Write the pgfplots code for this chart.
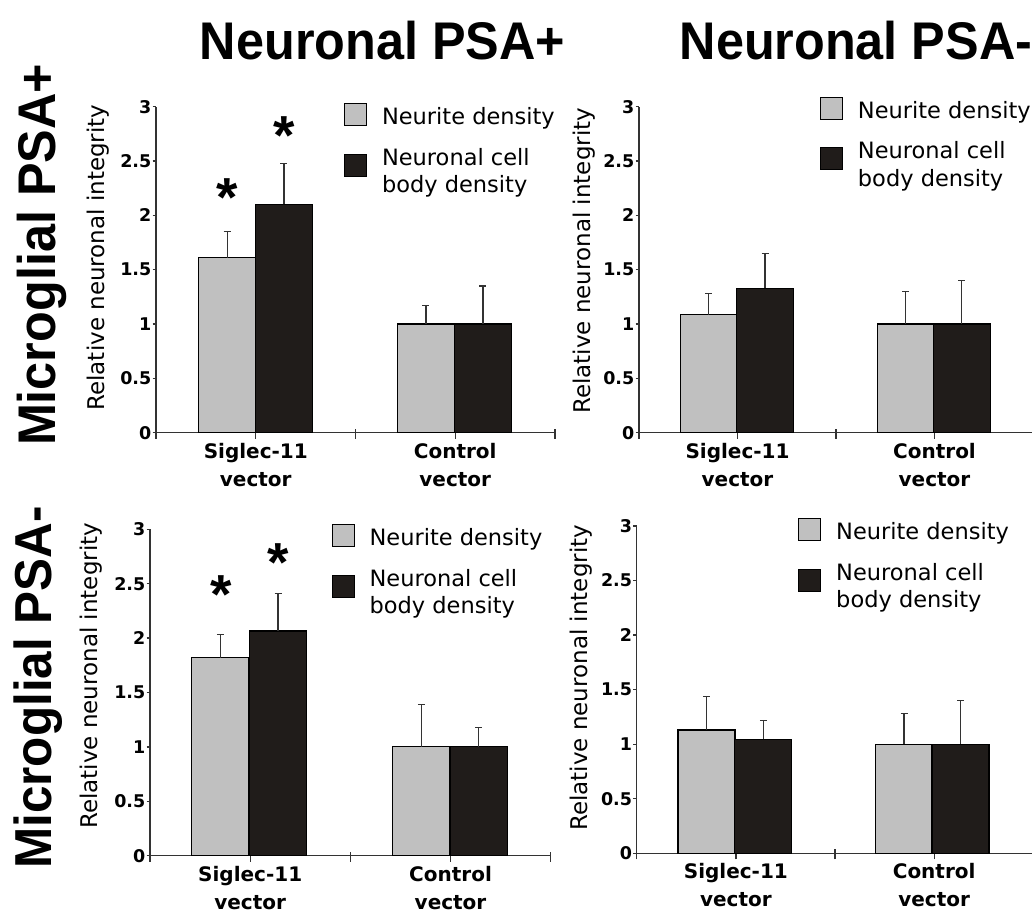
\documentclass[border=0pt]{standalone}
\usepackage{fontspec}
\usepackage{graphicx}
\usepackage{pgfplots}
\pgfplotsset{compat=1.18}
\newfontfamily\dvs{DejaVu Sans}
\newfontfamily\lib{Liberation Sans}
\definecolor{lgray}{RGB}{192,192,192}
\definecolor{dblack}{RGB}{32,28,26}
\definecolor{axcol}{RGB}{51,51,51}
\pgfplotsset{
  panel/.style={
    scale only axis,
    ymin=0, ymax=3, xmin=-0.5, xmax=1.5,
    enlargelimits=false, clip=false,
    axis x line=bottom, axis y line=left,
    axis line style={-, line width=1.3pt, color=axcol},
    ytick={0,0.5,1,1.5,2,2.5,3},
    yticklabels={0,0.5,1,1.5,2,2.5,3},
    yticklabel style={font=\dvs\bfseries\fontsize{17.5}{20}\selectfont, inner sep=0pt, xshift=-1pt},
    tick align=outside,
    major tick length=3.5pt,
    tick style={line width=1.3pt, color=axcol},
    xtick={-0.5,0.5,1.5}, xticklabels={},
    xtick style={/pgfplots/major tick length=10pt, yshift=4pt},
    extra x ticks={0,1},
    extra x tick labels={{Siglec-11\\vector},{Control\\vector}},
    extra x tick style={major tick length=0pt},
    xticklabel style={font=\dvs\bfseries\fontsize{20}{28}\selectfont, align=center, inner sep=0pt, yshift=-10pt},
    ylabel={Relative neuronal integrity},
    legend style={draw=none, fill=none, inner sep=0pt, outer sep=0pt,
      font=\dvs\fontsize{22.5}{27.7}\selectfont, row sep=21.5pt, column sep=15pt,
      nodes={inner sep=0pt, align=left}, anchor=north west},
    legend cell align=left,
  },
  ylab/.style 2 args={every axis y label/.style={at={(axis description cs:#1,#2)}, rotate=90, anchor=base,
      font=\dvs\fontsize{23}{24}\selectfont}},
  gbar/.style={ybar, bar width=57pt, bar shift=0pt, fill=lgray, draw=black, line width=1.1pt, forget plot,
    error bars/.cd, y dir=plus, y explicit,
    error bar style={line width=1.3pt, color=axcol},
    error mark options={rotate=90, line width=1.3pt, mark size=3.5pt, color=axcol}},
  kbar/.style={ybar, bar width=57pt, bar shift=0pt, fill=dblack, draw=black, line width=1.1pt, forget plot,
    error bars/.cd, y dir=plus, y explicit,
    error bar style={line width=1.3pt, color=axcol},
    error mark options={rotate=90, line width=1.3pt, mark size=3.5pt, color=axcol}},
  stars/.style={only marks, mark=text, text mark={\lib\bfseries\fontsize{55}{55}\selectfont *},
    mark options={yshift=-7pt}, forget plot},
  leg1/.style={legend image code/.code={\draw[fill=lgray, draw=black, line width=1.1pt] (0pt,-8.5pt) rectangle (22pt,13.5pt);}},
  leg2/.style={legend image code/.code={\draw[fill=dblack, draw=black, line width=1.1pt] (0pt,-5pt) rectangle (22pt,17pt);}},
}
\begin{document}
\begin{tikzpicture}
\useasboundingbox (0pt,0pt) rectangle (1032pt,916pt);
% titles
\node[anchor=base] at (382.5pt,856pt) {\lib\bfseries\fontsize{53}{53}\selectfont\scalebox{0.95}[1]{Neuronal PSA+}};
\node[anchor=base] at (856pt,856pt) {\lib\bfseries\fontsize{53}{53}\selectfont\scalebox{0.95}[1]{Neuronal PSA-}};
\node[anchor=base, rotate=90] at (55pt,661pt) {\lib\bfseries\fontsize{53}{53}\selectfont\scalebox{0.95}[1]{Microglial PSA+}};
\node[anchor=base, rotate=90] at (51pt,228.5pt) {\lib\bfseries\fontsize{52}{52}\selectfont\scalebox{0.95}[1]{Microglial PSA-}};

% Panel 1: top-left
\begin{axis}[panel, at={(156pt,483.3pt)}, anchor=south west, width=399pt, height=326pt,
  ylab={-0.128}{0.537},
  legend style={at={(axis description cs:0.471,1.011)}}]
\addplot[gbar] coordinates {(-0.143,1.61) +- (0,0.24) (0.853,1.0) +- (0,0.17)};
\addplot[kbar] coordinates {(0.141,2.10) +- (0,0.38) (1.139,1.0) +- (0,0.35)};
\addplot[stars] coordinates {(-0.143,2.23) (0.141,2.80)};
\addlegendimage{leg1}\addlegendentry{Neurite density}
\addlegendimage{leg2}\addlegendentry{Neuronal cell\\body density}
\end{axis}

% Panel 2: top-right
\begin{axis}[panel, at={(639pt,483.3pt)}, anchor=south west, width=394pt, height=326pt,
  ylab={-0.124}{0.527},
  legend style={at={(axis description cs:0.459,1.031)}}]
\addplot[gbar] coordinates {(-0.146,1.085) +- (0,0.195) (0.853,1.0) +- (0,0.30)};
\addplot[kbar] coordinates {(0.14,1.33) +- (0,0.32) (1.138,1.0) +- (0,0.40)};
\addlegendimage{leg1}\addlegendentry{Neurite density}
\addlegendimage{leg2}\addlegendentry{Neuronal cell\\body density}
\end{axis}

% Panel 3: bottom-left
\begin{axis}[panel, at={(150pt,60.3pt)}, anchor=south west, width=400.7pt, height=326.4pt,
  ylab={-0.130}{0.551},
  legend style={at={(axis description cs:0.453,1.016)}}]
\addplot[gbar] coordinates {(-0.149,1.82) +- (0,0.21) (0.854,1.0) +- (0,0.39)};
\addplot[kbar] coordinates {(0.139,2.065) +- (0,0.345) (1.14,1.0) +- (0,0.18)};
\addplot[stars] coordinates {(-0.146,2.46) (0.139,2.76)};
\addlegendimage{leg1}\addlegendentry{Neurite density}
\addlegendimage{leg2}\addlegendentry{Neuronal cell\\body density}
\end{axis}

% Panel 4: bottom-right
\begin{axis}[panel, at={(636.7pt,62.7pt)}, anchor=south west, width=396.6pt, height=327.3pt,
  ylab={-0.123}{0.536},
  legend style={at={(axis description cs:0.407,1.024)}}]
\addplot[gbar] coordinates {(-0.148,1.13) +- (0,0.305) (0.848,1.0) +- (0,0.28)};
\addplot[kbar] coordinates {(0.139,1.045) +- (0,0.17) (1.133,1.0) +- (0,0.40)};
\addlegendimage{leg1}\addlegendentry{Neurite density}
\addlegendimage{leg2}\addlegendentry{Neuronal cell\\body density}
\end{axis}
\end{tikzpicture}
\end{document}
